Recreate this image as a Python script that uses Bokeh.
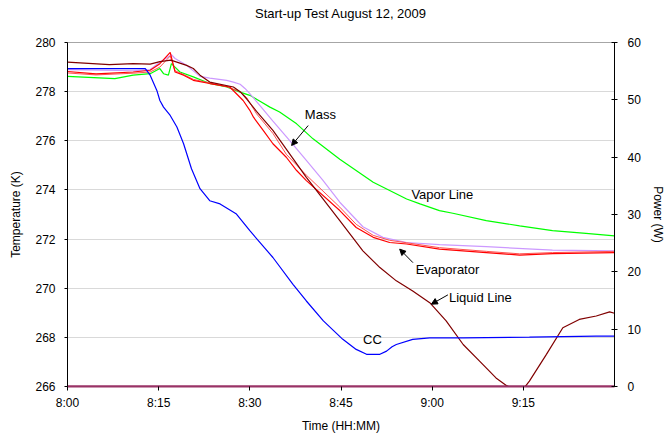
from bokeh.plotting import figure
from bokeh.models import (Range1d, LinearAxis, FixedTicker, Label, Arrow, NormalHead)
from bokeh.embed import file_html
from bokeh.resources import INLINE

# ---- data (minutes after 8:00, temperature K) ----
cc_t = [0, 12.8, 13.6, 14.7, 15.2, 15.8, 16.9, 18.0, 19.1, 20.4, 21.8, 23.4, 25.1, 27.8, 30.0,
        33.8, 37.1, 39.3, 42.1, 45.3, 47.5, 49.2, 51.4, 52.5, 53.4, 54.1, 56.8, 59.6, 65.1, 76, 87, 90]
cc_T = [278.94, 278.94, 278.67, 278.05, 277.64, 277.37, 277.03, 276.56, 275.88, 274.86, 274.05,
        273.56, 273.43, 273.02, 272.34, 271.25, 270.16, 269.48, 268.67, 267.92, 267.51, 267.31,
        267.31, 267.44, 267.62, 267.71, 267.92, 267.98, 267.98, 268.01, 268.05, 268.05]

liq_t = [0, 6.9, 10.8, 13.6, 15.2, 17.0, 19.6, 20.7, 21.8, 23.4, 27.3, 28.4, 29.5, 31.1, 33.8,
         39.3, 44.8, 48.6, 51.4, 54.1, 56.8, 59.6, 62.3, 65.1, 67.8, 70.5, 72.2, 73.5, 75.0, 76.0,
         78.8, 81.5, 84.2, 87.0, 89.2, 90]
liq_T = [279.2, 279.1, 279.14, 279.12, 279.22, 279.28, 279.07, 278.94, 278.67, 278.39, 278.19,
         278.0, 277.7, 277.2, 276.42, 274.51, 272.75, 271.52, 270.84, 270.3, 269.89, 269.41,
         268.67, 267.71, 267.03, 266.35, 266.04, 265.9, 265.9, 266.22, 267.31, 268.39, 268.73,
         268.87, 269.04, 268.98]

evap_t = [0, 4.7, 10.8, 13.6, 15.2, 16.9, 17.7, 19.1, 20.7, 23.4, 26.7, 28.9, 30.0, 30.6, 32.2,
          33.8, 36.0, 37.7, 39.3, 44.8, 47.5, 50.3, 53.0, 55.8, 61.2, 68.9, 74.4, 79.8, 90]
evap_T = [278.82, 278.72, 278.8, 278.87, 279.14, 279.6, 278.8, 278.67, 278.46, 278.33, 278.19,
          277.64, 277.24, 276.96, 276.42, 275.88, 275.33, 274.79, 274.38, 273.16, 272.47, 272.07,
          271.86, 271.8, 271.59, 271.45, 271.35, 271.41, 271.45]

evap2_t = [0, 4.7, 10.8, 13.6, 15.2, 16.9, 17.7, 19.1, 20.7, 23.4, 26.2, 28.4, 29.5, 31.1, 33.8,
           36.0, 39.3, 44.8, 47.5, 50.3, 53.0, 55.8, 61.2, 68.9, 74.4, 79.8, 90]
evap2_T = [278.76, 278.68, 278.75, 278.8, 279.0, 279.45, 278.85, 278.7, 278.5, 278.35, 278.2,
           278.0, 277.75, 277.1, 276.3, 275.45, 274.6, 273.3, 272.6, 272.15, 271.95, 271.85,
           271.65, 271.5, 271.4, 271.45, 271.5]

mass_t = [0, 10.8, 13.6, 15.2, 17.1, 17.7, 19.6, 21.8, 23.4, 26.2, 27.3, 28.4, 29.2, 30.0, 31.6,
          33.8, 36.6, 39.3, 42.0, 44.8, 48.6, 51.9, 55.8, 61.2, 68.9, 79.8, 90]
mass_T = [278.9, 278.85, 278.9, 279.2, 279.5, 279.35, 279.07, 278.62, 278.55, 278.46, 278.39,
          278.3, 278.13, 277.92, 277.45, 276.8, 276.0, 275.2, 274.4, 273.5, 272.5, 272.07,
          271.86, 271.77, 271.69, 271.55, 271.52]

vap_t = [0, 7.8, 10.8, 13.6, 15.2, 15.8, 16.6, 17.1, 18.5, 20.7, 23.4, 26.2, 28.4, 30.0, 31.6,
         33.3, 34.9, 37.7, 40.4, 44.8, 50.3, 55.8, 58.0, 61.2, 63.4, 68.9, 74.4, 79.8, 85.3, 90]
vap_T = [278.62, 278.53, 278.67, 278.73, 278.94, 278.73, 278.67, 279.14, 278.8, 278.6, 278.33,
         278.19, 277.98, 277.85, 277.62, 277.37, 277.17, 276.69, 276.08, 275.25, 274.31, 273.63,
         273.43, 273.16, 273.05, 272.75, 272.54, 272.34, 272.23, 272.13]

power_t = [0, 90]
power_W = [0, 0]

time_ticks = [0, 15, 30, 45, 60, 75]
time_labels = ["8:00", "8:15", "8:30", "8:45", "9:00", "9:15"]
temp_ticks = [266, 268, 270, 272, 274, 276, 278, 280]
power_ticks = [0, 10, 20, 30, 40, 50, 60]

FONT = "Liberation Sans"

p = figure(width=667, height=437, output_backend="svg", toolbar_location=None,
           x_range=Range1d(0, 90), y_range=Range1d(266, 280),
           min_border_left=67, min_border_right=53, min_border_top=42, min_border_bottom=51)
p.extra_y_ranges = {"power": Range1d(0, 60)}
p.title.text = ""
p.title.standoff = 0
p.title.visible = False

p.outline_line_color = "#A6A6A6"
p.xgrid.visible = False
p.ygrid.ticker = FixedTicker(ticks=temp_ticks)
p.ygrid.grid_line_color = "#D9D9D9"
p.ygrid.grid_line_width = 1

p.line(power_t, power_W, y_range_name="power", line_color="#993366", line_width=2)
p.line(vap_t, vap_T, line_color="#00FF00", line_width=1.2)
p.line(mass_t, mass_T, line_color="#CC99FF", line_width=1.2)
p.line(evap2_t, evap2_T, line_color="#FF5050", line_width=1.0)
p.line(evap_t, evap_T, line_color="#FF0000", line_width=1.2)
p.line(liq_t, liq_T, line_color="#800000", line_width=1.2)
p.line(cc_t, cc_T, line_color="#0000FF", line_width=1.2)

# axes
xa = p.xaxis[0]
xa.ticker = FixedTicker(ticks=time_ticks)
xa.major_label_overrides = {t: l for t, l in zip(time_ticks, time_labels)}
xa.axis_label = "Time (HH:MM)"
xa.major_tick_in = 0
xa.major_tick_out = 4
xa.minor_tick_line_color = None
xa.major_label_standoff = 5
xa.axis_label_standoff = 6

ya = p.yaxis[0]
ya.ticker = FixedTicker(ticks=temp_ticks)
ya.axis_label = "Temperature (K)"
ya.major_tick_in = 0
ya.major_tick_out = 3
ya.minor_tick_line_color = None
ya.major_label_standoff = 9
ya.axis_label_standoff = 9

ra = LinearAxis(y_range_name="power", ticker=FixedTicker(ticks=power_ticks), axis_label="Power (W)")
ra.major_tick_in = 3
ra.major_tick_out = 3
ra.minor_tick_line_color = None
ra.major_label_standoff = 10
ra.axis_label_standoff = 7
p.add_layout(ra, "right")

for ax in [xa, ya, ra]:
    ax.axis_line_color = "#000000"
    ax.major_tick_line_color = "#000000"
    ax.major_label_text_font = FONT
    ax.major_label_text_font_size = "12px"
    ax.major_label_text_color = "#000000"
    ax.axis_label_text_font = FONT
    ax.axis_label_text_font_size = "12px"
    ax.axis_label_text_font_style = "normal"
    ax.axis_label_text_color = "#000000"
xa.axis_line_color = "#993366"
xa.axis_line_width = 2

# title: drawn as the label of a bare axis above the frame
ta = LinearAxis(ticker=FixedTicker(ticks=[]), axis_label="Start-up Test August 12, 2009")
ta.axis_line_color = None
ta.major_tick_line_color = None
ta.minor_tick_line_color = None
ta.major_tick_in = 0
ta.major_tick_out = 0
ta.minor_tick_in = 0
ta.minor_tick_out = 0
ta.major_label_standoff = 0
ta.major_label_text_font_size = "0px"
ta.axis_label_standoff = 22
ta.axis_label_text_font = FONT
ta.axis_label_text_font_size = "13px"
ta.axis_label_text_font_style = "normal"
ta.axis_label_text_color = "#000000"
p.add_layout(ta, "above")

# annotations
def lab(x, y, s):
    p.add_layout(Label(x=x, y=y, text=s, text_font=FONT, text_font_size="13px",
                       text_baseline="middle", text_align="left", text_color="#000000"))

lab(39.05, 277.07, "Mass")
lab(56.58, 273.81, "Vapor Line")
lab(57.29, 270.77, "Evaporator")
lab(62.76, 269.64, "Liquid Line")
lab(48.63, 267.93, "CC")

def arr(x0, y0, x1, y1):
    p.add_layout(Arrow(end=NormalHead(size=6, fill_color="black", line_color="black"),
                       x_start=x0, y_start=y0, x_end=x1, y_end=y1,
                       line_color="black", line_width=1))

arr(39.6, 276.62, 36.87, 275.81)
arr(56.84, 271.04, 54.66, 271.59)
arr(62.59, 269.73, 59.87, 269.35)

open("out.html", "w").write(file_html(p, INLINE))
